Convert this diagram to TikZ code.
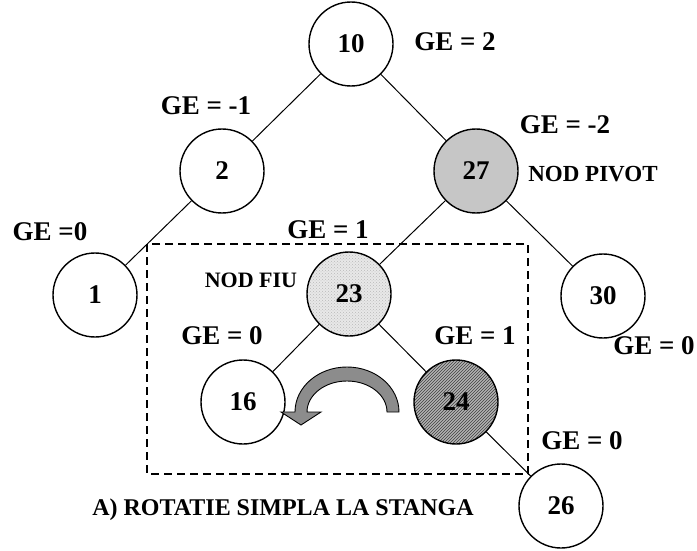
\documentclass[tikz,border=0pt]{standalone}
\usepackage{fontspec}
\setmainfont{Liberation Serif}
\usetikzlibrary{patterns}

\begin{document}
\begin{tikzpicture}[x=1pt, y=-1pt,
        nod/.style={circle, draw, line width=1.4, minimum size=84, inner sep=0,
          font=\fontsize{27}{30}\selectfont\bfseries},
        ge/.style={font=\fontsize{27}{30}\selectfont\bfseries, inner sep=0},
        eticheta/.style={font=\fontsize{23}{26}\selectfont\bfseries, inner sep=0},
        muchie/.style={line width=1}]
        \useasboundingbox (0,0) rectangle (697,551);
        \node[nod] (n10) at (351,44) {10};
        \node[nod] (n2) at (222,171) {2};
        \node[nod, fill=gray!45] (n27) at (476,171) {27};
        \node[nod] (n1) at (95,295) {1};
        \node[nod, preaction={fill=gray!18}, pattern=crosshatch dots, pattern color=gray!55] (n23) at (349,294) {23};
        \node[nod] (n30) at (603,296) {30};
        \node[nod] (n16) at (243,402) {16};
        \node[nod, preaction={fill=gray!60}, pattern=north east lines, pattern color=black!75] (n24) at (456,402) {24};
        \node[nod] (n26) at (561,506) {26};
        \draw[muchie] (n10) -- (n2);
        \draw[muchie] (n10) -- (n27);
        \draw[muchie] (n2) -- (n1);
        \draw[muchie] (n27) -- (n23);
        \draw[muchie] (n27) -- (n30);
        \draw[muchie] (n23) -- (n16);
        \draw[muchie] (n23) -- (n24);
        \draw[muchie] (n24) -- (n26);
        \draw[line width=2.2, dash pattern=on 8 off 5] (147,244) rectangle (528,474);
        \node[ge] (ge10) at (455,42) {GE = 2};
        \node[ge] (ge2) at (206,106) {GE = -1};
        \node[ge] (ge27) at (565,125) {GE = -2};
        \node[eticheta] (pivot) at (593,174) {NOD PIVOT};
        \node[ge] (ge1) at (50,232) {GE =0};
        \node[ge] (ge23) at (328,230) {GE = 1};
        \node[eticheta, font=\fontsize{22}{25}\selectfont\bfseries] (fiu) at (251,280) {NOD FIU};
        \node[ge] (ge16) at (222,336) {GE = 0};
        \node[ge] (ge24) at (475,336) {GE = 1};
        \node[ge] (ge30) at (654,346) {GE = 0};
        \node[ge] (ge26) at (582,441) {GE = 0};
        \node[eticheta, font=\fontsize{24}{27}\selectfont\bfseries] (titlu) at (283,510) {A) ROTATIE SIMPLA LA STANGA};
        \fill[gray!90, draw=black, line width=0.9]
          (399,412) arc[start angle=0, end angle=-180, x radius=52, y radius=45]
          -- (281,412) -- (301,425) -- (321,412) -- (307,412)
          arc[start angle=-180, end angle=0, x radius=40, y radius=31] -- cycle;
\end{tikzpicture}
\end{document}
